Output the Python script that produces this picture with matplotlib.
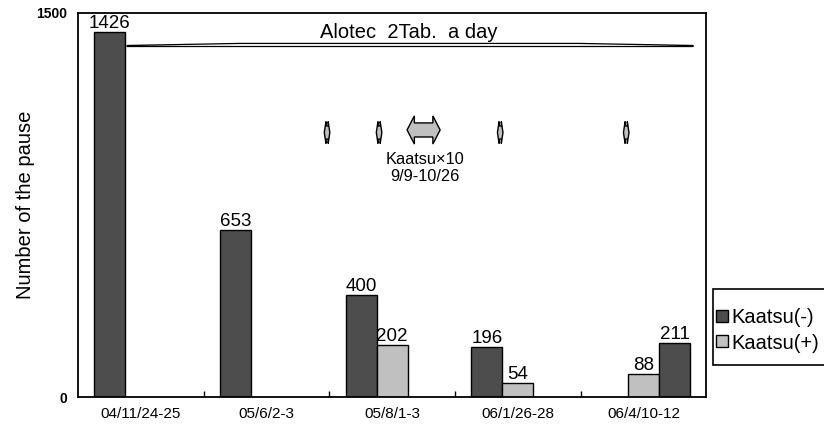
import numpy as np
import matplotlib
matplotlib.use('Agg')
import matplotlib.pyplot as plt
from matplotlib.patches import Polygon, Patch, Rectangle

plt.rcParams['font.family'] = ['Liberation Sans', 'DejaVu Sans']

# --- data ---
categories = ['04/11/24-25', '05/6/2-3', '05/8/1-3', '06/1/26-28', '06/4/10-12']
kaatsu_minus = [1426, 653, 400, 196, 0]      # dark, left slot
kaatsu_plus = [0, 0, 202, 54, 88]            # light, middle slot
kaatsu_minus_late = [0, 0, 0, 0, 211]        # dark, right slot (same legend entry)

dark = '#4d4d4d'
light = '#c0c0c0'

# annotation shapes (data coords)
small_arrow_x = [1.482, 1.896, 2.860, 3.863]
small_arrow_y = (990, 1076)
big_arrow_x = (2.119, 2.382)
big_arrow_y = (988, 1098)
bracket_x = [-0.11, 0.782, 3.489, 4.396]


def double_arrow(ax, x0, x1, y0, y1, head=0.22, shaft=0.25):
    w = x1 - x0
    h = y1 - y0
    pts = [(0, 0.5), (head, 1), (head, 1 - shaft), (1 - head, 1 - shaft),
           (1 - head, 1), (1, 0.5), (1 - head, 0), (1 - head, shaft),
           (head, shaft), (head, 0)]
    pts = [(x0 + u * w, y0 + v * h) for u, v in pts]
    ax.add_patch(Polygon(pts, closed=True, facecolor=light, edgecolor='black',
                         lw=1.0, zorder=5))


fig = plt.figure(figsize=(8.24, 4.32), dpi=100)
ax = fig.add_axes([0.0947, 0.081, 0.7624, 0.889])

x = np.arange(len(categories))
w = 0.247
b1 = ax.bar(x - w, kaatsu_minus, w, color=dark, edgecolor='black', lw=1)
b2 = ax.bar(x, kaatsu_plus, w, color=light, edgecolor='black', lw=1)
b3 = ax.bar(x + w, kaatsu_minus_late, w, color=dark, edgecolor='black', lw=1)

for bars, vals in [(b1, kaatsu_minus), (b2, kaatsu_plus), (b3, kaatsu_minus_late)]:
    for r, v in zip(bars, vals):
        if v > 0:
            ax.annotate(str(v), (r.get_x() + r.get_width() / 2, v),
                        xytext=(0, 0), textcoords='offset points',
                        ha='center', va='bottom', fontsize=13.5)
        else:
            r.set_visible(False)

ax.set_xlim(-0.5, len(categories) - 0.5)
ax.set_ylim(0, 1500)
ax.set_xticks(x)
ax.set_xticklabels(categories, fontsize=11)
ax.set_xticks(np.arange(0.5, len(categories) - 0.5), minor=True)
ax.tick_params(axis='x', which='major', length=0, pad=7)
ax.tick_params(axis='x', which='minor', direction='in', length=4, width=1)
ax.set_yticks([0, 1500])
ax.set_yticklabels(['0', '1500'], fontsize=10, fontweight='bold')
ax.tick_params(axis='y', length=0, pad=8)
ax.set_ylabel('Number of the pause', fontsize=14.5)
ax.yaxis.set_label_coords(-0.068, 0.5)
for s in ax.spines.values():
    s.set_linewidth(1.3)

# Alotec bracket
bx = bracket_x
br = [(bx[0], 1369), (bx[3], 1369), (bx[3], 1373), (bx[2], 1381),
      (bx[1], 1381), (bx[0], 1373)]
ax.add_patch(Polygon(br, closed=True, facecolor='white', edgecolor='black',
                     lw=0.9, zorder=4))
ax.text(2.135, 1422, 'Alotec  2Tab.  a day', ha='center', va='center',
        fontsize=14.5)

for sx in small_arrow_x:
    double_arrow(ax, sx - 0.022, sx + 0.022, small_arrow_y[0], small_arrow_y[1],
                 head=0.3, shaft=0.2)
double_arrow(ax, big_arrow_x[0], big_arrow_x[1], big_arrow_y[0], big_arrow_y[1])
ax.text(2.263, 926, 'Kaatsu\u00d710', ha='center', va='center', fontsize=11.8)
ax.text(2.263, 863, '9/9-10/26', ha='center', va='center', fontsize=11.8)

# legend: frame runs off the right edge like the original
fig.patches.append(Rectangle((0.8653, 0.155), 0.2, 0.176, transform=fig.transFigure,
                             facecolor='white', edgecolor='black', lw=1.2))
handles = [Patch(facecolor=dark, edgecolor='black', lw=1),
           Patch(facecolor=light, edgecolor='black', lw=1)]
leg = fig.legend(handles, ['Kaatsu(-)', 'Kaatsu(+)'], loc='center left',
                 bbox_to_anchor=(0.869, 0.235), fontsize=14.5, frameon=False,
                 handlelength=0.6, handleheight=0.55, handletextpad=0.15,
                 borderpad=0, labelspacing=0.3, borderaxespad=0)

fig.savefig('out.png', dpi=100)
